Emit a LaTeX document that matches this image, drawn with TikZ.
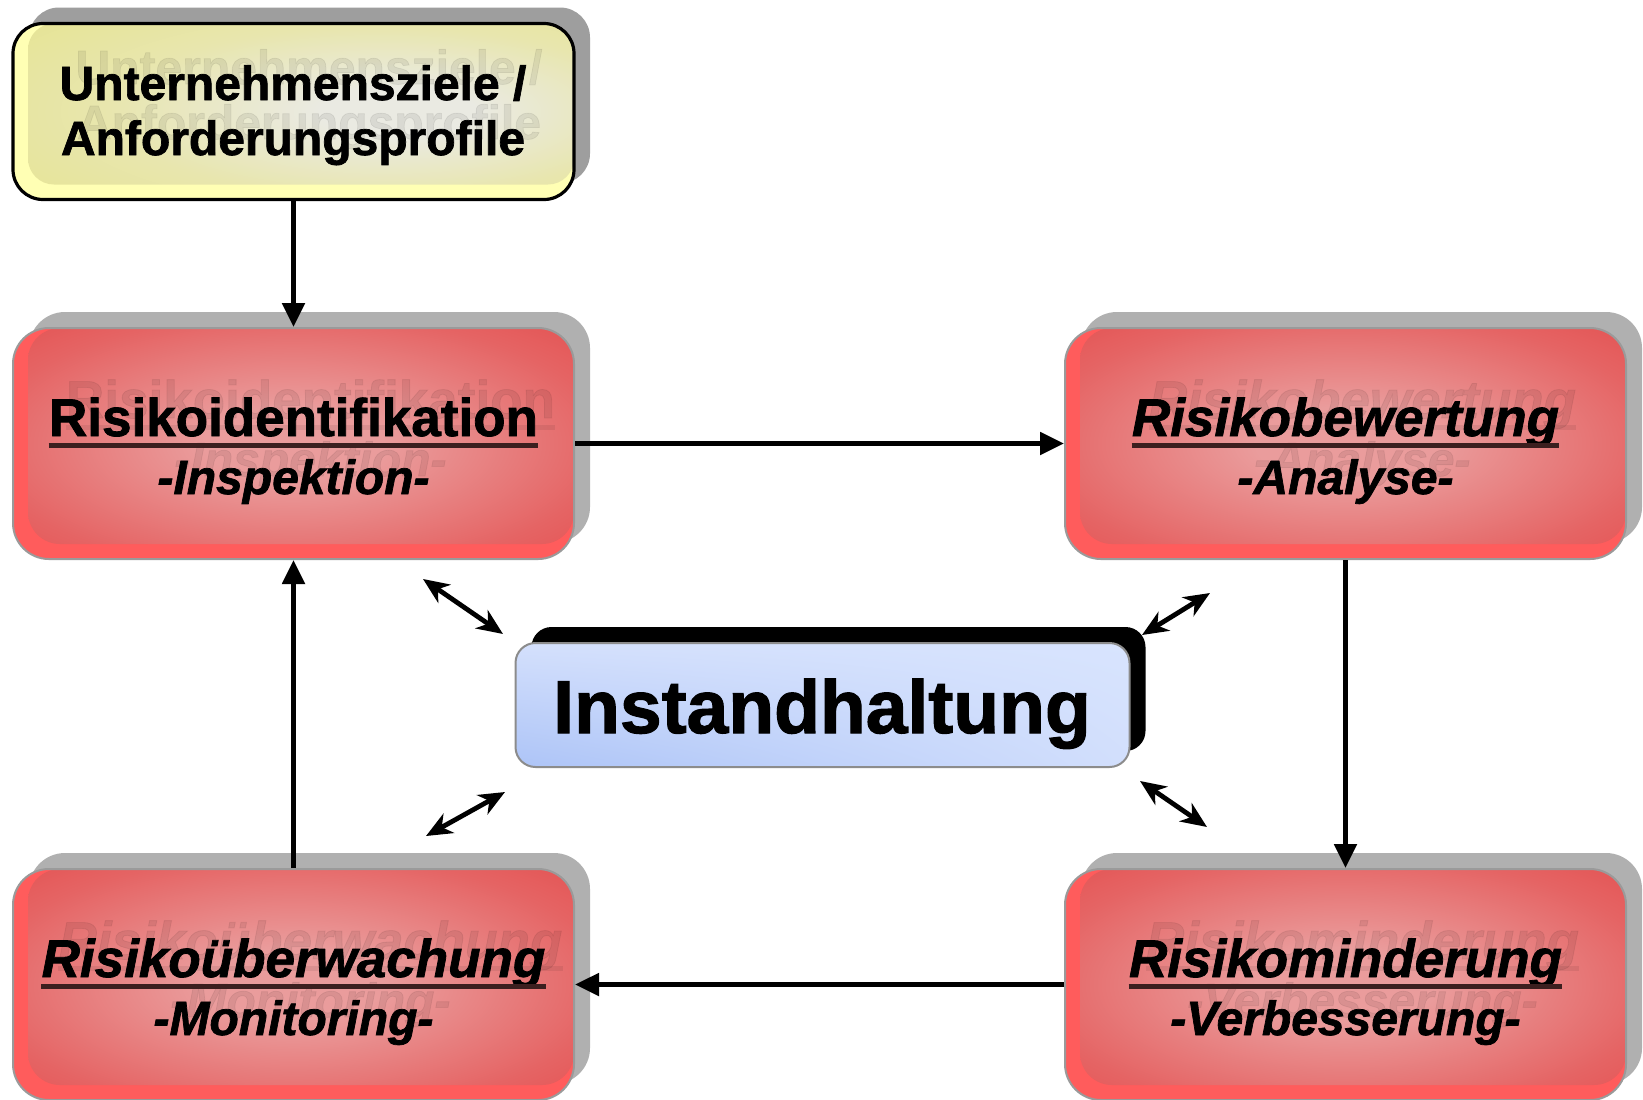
\documentclass[tikz,border=0pt]{standalone}
\usepackage{fontspec}
\setmainfont{Liberation Sans}[BoldFeatures={FakeBold=1.5},BoldItalicFeatures={FakeBold=1.5}]
\usetikzlibrary{arrows.meta,shadows,shadings}
\definecolor{redout}{HTML}{FF5C5C}
\definecolor{rededge}{HTML}{E23E3E}
\definecolor{redmid2}{HTML}{E34848}
\definecolor{redmid}{HTML}{E56464}
\definecolor{redcenter}{HTML}{EA9C9C}
\definecolor{shadowgray}{HTML}{B0B0B0}
\definecolor{boxborder}{HTML}{9A9A9A}
\definecolor{yelout}{HTML}{FFFFB4}
\definecolor{yeledge}{HTML}{E6E494}
\definecolor{yelmid}{HTML}{E8E6AE}
\definecolor{yelcenter}{HTML}{EAEAE2}
\definecolor{yelshadow}{HTML}{9E9E9E}
\definecolor{blueA}{HTML}{ADC4F7}
\definecolor{blueB}{HTML}{D4E0FC}
\definecolor{blueC}{HTML}{D8E4FE}
\definecolor{blueD}{HTML}{D2DFFC}
\definecolor{bluebord}{HTML}{8C8C8C}
\definecolor{ulinecol}{HTML}{3C1F1F}
\pgfdeclareradialshading{redglow}{\pgfpoint{0bp}{0bp}}{color(0bp)=(redcenter); color(8bp)=(redcenter); color(28bp)=(redmid); color(42bp)=(redmid2); color(50bp)=(rededge); color(100bp)=(rededge)}
\pgfdeclareradialshading{yelglow}{\pgfpoint{10bp}{0bp}}{color(0bp)=(yelcenter); color(7bp)=(yelcenter); color(24bp)=(yelmid); color(40bp)=(yeledge); color(100bp)=(yeledge)}
\tikzset{
  riskbox/.style={rounded corners=18pt, draw=boxborder, line width=1pt, fill=redout,
    minimum width=280.5pt, minimum height=115.5pt, inner sep=0pt,
    drop shadow={shadow xshift=8pt, shadow yshift=8pt, opacity=1, fill=shadowgray},
    path picture={\shade[shading=redglow, rounded corners=16pt]
      ([xshift=7.5pt,yshift=7.5pt]path picture bounding box.south west) rectangle (path picture bounding box.north east);}},
  yelbox/.style={rounded corners=15pt, draw=black, line width=1.6pt, fill=yelout,
    minimum width=280.5pt, minimum height=88pt, inner sep=0pt,
    drop shadow={shadow xshift=8pt, shadow yshift=8pt, opacity=1, fill=yelshadow},
    path picture={\shade[shading=yelglow, rounded corners=13pt]
      ([xshift=7.5pt,yshift=7.5pt]path picture bounding box.south west) rectangle (path picture bounding box.north east);}},
  bluebox/.style={rounded corners=10pt, draw=bluebord, line width=1pt,
    minimum width=307pt, minimum height=62pt, inner sep=0pt,
    drop shadow={shadow xshift=8pt, shadow yshift=8pt, opacity=1, fill=black},
    path picture={\shade[lower left=blueA, upper left=blueB, upper right=blueC, lower right=blueD]
      (path picture bounding box.south west) rectangle (path picture bounding box.north east);}},
  titleup/.style={font=\fontsize{26.5}{30}\selectfont\bfseries, inner sep=0pt},
  titleit/.style={font=\fontsize{26.5}{30}\selectfont\bfseries\itshape, inner sep=0pt},
  subfont/.style={font=\fontsize{24}{28}\selectfont\bfseries\itshape, inner sep=0pt},
  yelfont/.style={font=\fontsize{24}{28}\selectfont\bfseries, inner sep=0pt},
  bigfont/.style={font=\fontsize{37.5}{42}\selectfont\bfseries, inner sep=0pt},
  ghost/.style={text=black, text opacity=0.07},
  uline/.style={line width=2.6pt, draw=ulinecol},
  ghostline/.style={line width=2.6pt, draw=black, draw opacity=0.07},
  mainarrow/.style={line width=2.5pt, -{Triangle[length=12pt,width=11pt]}},
  dblarrow/.style={line width=2.4pt, {Stealth[length=13pt,width=11pt,inset=4pt]}-{Stealth[length=13pt,width=11pt,inset=4pt]}}
}
\newcommand\RiskUnit[6]{%
  \node[riskbox] (#1) at (#2,{#3+115.5}) {};
  \node[ghost,#4,anchor=base] (#1gt) at ({#2+17},{#3+108-18}) {#5};
  \draw[ghostline] ([yshift=-4.75pt]#1gt.base west) -- ([yshift=-4.75pt]#1gt.base east);
  \node[ghost,subfont,anchor=base] (#1gs) at ({#2+17},{#3+166-18}) {#6};
  \node[#4,anchor=base] (#1t) at (#2,{#3+108}) {#5};
  \draw[uline] ([yshift=-4.75pt]#1t.base west) -- ([yshift=-4.75pt]#1t.base east);
  \node[subfont,anchor=base] (#1s) at (#2,{#3+166}) {#6};
}
\begin{document}
\begin{tikzpicture}[x=0.5pt,y=-0.5pt]
\useasboundingbox (0,0) rectangle (1643,1099);
\fill[white] (0,0) rectangle (1643,1099);

% top yellow box
\node[yelbox] (y) at (293.5,111.5) {};
\node[ghost,yelfont,anchor=base] (yg1) at (309,84) {Unternehmensziele /};
\node[ghost,yelfont,anchor=base] (yg2) at (309,139) {Anforderungsprofile};
\node[yelfont,anchor=base] (y1) at (293,100) {Unternehmensziele /};
\node[yelfont,anchor=base] (y2) at (293,155) {Anforderungsprofile};

% risk boxes
\RiskUnit{b1}{293.5}{328}{titleup}{Risikoidentifikation}{-Inspektion-}
\RiskUnit{b2}{1345.5}{328}{titleit}{Risikobewertung}{-Analyse-}
\RiskUnit{b3}{293.5}{869}{titleit}{Risikoüberwachung}{-Monitoring-}
\RiskUnit{b4}{1345.5}{869}{titleit}{Risikominderung}{-Verbesserung-}

% central box
\node[bluebox] (c) at (822.5,705) {};
\node[bigfont,anchor=base] (ct) at (822,733) {Instandhaltung};

% cycle arrows
\draw[mainarrow] (y) -- (b1);
\draw[mainarrow] (b1) -- (b2);
\draw[mainarrow] (b2) -- (b4);
\draw[mainarrow] (b4) -- (b3);
\draw[mainarrow] (b3) -- (b1);

% double arrows
\coordinate (d1a) at (423,579);
\coordinate (d1b) at (503,634);
\coordinate (d2a) at (1210,593);
\coordinate (d2b) at (1142,635);
\coordinate (d3a) at (426,836);
\coordinate (d3b) at (505,792);
\coordinate (d4a) at (1140,781);
\coordinate (d4b) at (1207,827);
\draw[dblarrow] (d1a) -- (d1b);
\draw[dblarrow] (d2a) -- (d2b);
\draw[dblarrow] (d3a) -- (d3b);
\draw[dblarrow] (d4a) -- (d4b);
\end{tikzpicture}
\end{document}
